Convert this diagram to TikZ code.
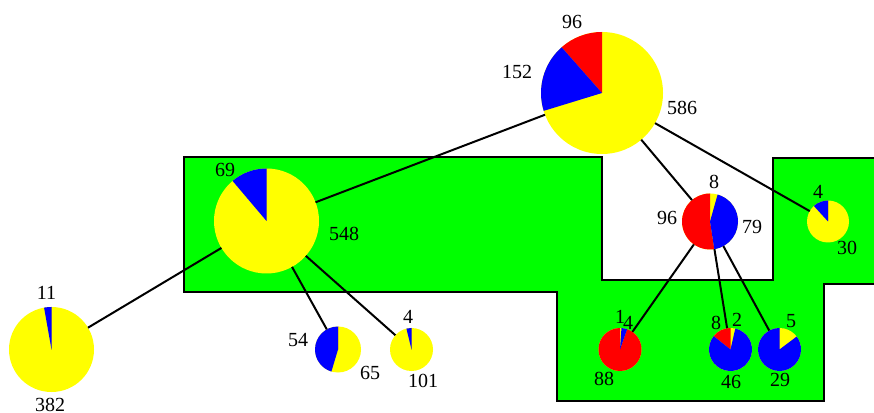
\documentclass[tikz,border=0pt]{standalone}
\usepackage{fontspec}
\setmainfont{Liberation Serif}
\definecolor{piered}{RGB}{255, 0, 0}
\definecolor{pieblue}{RGB}{0, 0, 255}
\definecolor{pieyellow}{RGB}{255, 255, 0}
\definecolor{zonegreen}{RGB}{0, 255, 0}

% pie: name, centre, radius, red, blue, yellow
\newcommand{\piechart}[6]{%
  \node[circle, draw=none, inner sep=0pt, outer sep=0pt, minimum size={2*#3pt}] (#1) at (#2) {};
  \pgfmathsetmacro{\pietotal}{#4+#5+#6}
  \pgfmathsetmacro{\pieA}{90+(#4/\pietotal)*360}
  \pgfmathsetmacro{\pieB}{\pieA+(#5/\pietotal)*360}
  \fill[pieyellow] (#1.center) circle[radius=#3pt];
  \fill[piered] (#1.center) -- ++(90:#3pt) arc[start angle=90, end angle=\pieA, radius=#3pt] -- cycle;
  \fill[pieblue] (#1.center) -- ++(\pieA:#3pt) arc[start angle=\pieA, end angle=\pieB, radius=#3pt] -- cycle;
}

\begin{document}
\begin{tikzpicture}[x=1pt, y=1pt, font=\fontsize{20}{24}\selectfont]
                    \useasboundingbox (0,0) rectangle (874,412);
                    \clip (0,0) rectangle (874,412);

                    % Green zone
                    \draw[line width=2pt, fill=zonegreen] (184,255) -- (602,255) -- (602,132) -- (773,132)
                        -- (773,254) -- (880,254) -- (880,128) -- (824,128) -- (824,11) -- (557,11)
                        -- (557,120) -- (184,120) -- cycle;

                    % Pies
                    \piechart{A}{602,319}{61}{96}{152}{586}
                    \piechart{B}{266.5,191}{52.5}{0}{69}{548}
                    \piechart{C}{51.5,62.5}{42.5}{0}{11}{382}
                    \piechart{D}{338,62.5}{23}{0}{54}{65}
                    \piechart{E}{411.5,62.5}{21.5}{0}{4}{101}
                    \piechart{F}{710,190.5}{28}{96}{79}{8}
                    \piechart{G}{828,190.5}{21}{0}{4}{30}
                    \piechart{H}{620,62.5}{21.5}{88}{4}{1}
                    \piechart{I}{730.5,62.5}{21.5}{8}{46}{2}
                    \piechart{J}{779.5,62.5}{21.5}{0}{29}{5}

                    % Links
                    \draw[line width=2pt] (A) -- (B);
                    \draw[line width=2pt] (A) -- (F);
                    \draw[line width=2pt] (A) -- (G);
                    \draw[line width=2pt] (B) -- (C);
                    \draw[line width=2pt] (B) -- (D);
                    \draw[line width=2pt] (B) -- (E);
                    \draw[line width=2pt] (F) -- (H);
                    \draw[line width=2pt] (F) -- (I);
                    \draw[line width=2pt] (F) -- (J);

                    % Counts
                    \node[inner sep=0] (a1) at (572,390) {96};
                    \node[inner sep=0] (a2) at (517,340) {152};
                    \node[inner sep=0] (a3) at (682,304) {586};
                    \node[inner sep=0] (b1) at (225,242) {69};
                    \node[inner sep=0] (b2) at (344,178) {548};
                    \node[inner sep=0] (c1) at (46.5,119) {11};
                    \node[inner sep=0] (c2) at (50,7) {382};
                    \node[inner sep=0] (d1) at (298,72) {54};
                    \node[inner sep=0] (d2) at (370,39) {65};
                    \node[inner sep=0] (e1) at (408,95) {4};
                    \node[inner sep=0] (e2) at (423,31) {101};
                    \node[inner sep=0] (f1) at (714,230) {8};
                    \node[inner sep=0] (f2) at (667,194) {96};
                    \node[inner sep=0] (f3) at (752,185) {79};
                    \node[inner sep=0] (g1) at (818,220) {4};
                    \node[inner sep=0] (g2) at (847,164) {30};
                    \node[inner sep=0] (h1) at (620,95) {1};
                    \node[inner sep=0] (h2) at (628,89) {4};
                    \node[inner sep=0] (h3) at (604,33) {88};
                    \node[inner sep=0] (i1) at (716,89) {8};
                    \node[inner sep=0] (i2) at (737,92) {2};
                    \node[inner sep=0] (i3) at (731,30) {46};
                    \node[inner sep=0] (j1) at (791,91) {5};
                    \node[inner sep=0] (j2) at (780,32) {29};
                \end{tikzpicture}
\end{document}
